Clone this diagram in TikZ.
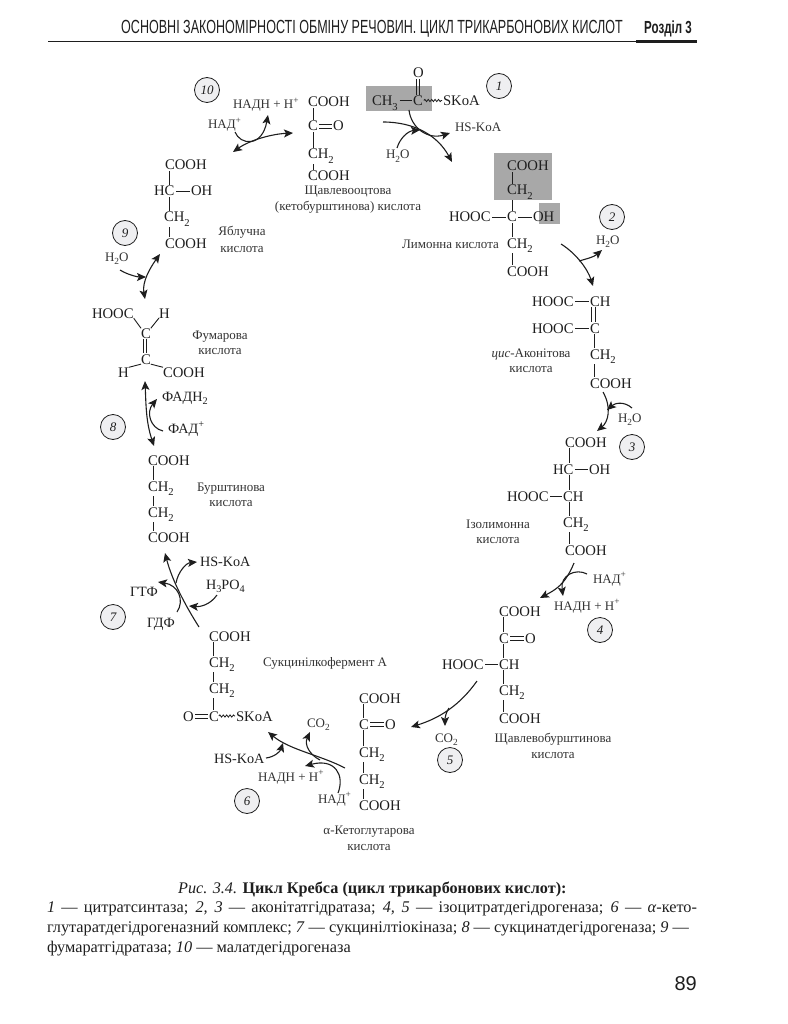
\documentclass[tikz,border=0pt]{standalone}
\usepackage{fontspec}
\setmainfont{Liberation Serif}
\newfontfamily\hdrfont[FakeStretch=0.66]{Liberation Sans}
\newfontfamily\numfont{Liberation Sans}
\usetikzlibrary{arrows.meta,decorations.pathmorphing,calc}
\definecolor{ink}{HTML}{1E1E1E}
\definecolor{lab}{HTML}{333333}
\definecolor{boxgrey}{HTML}{A8A8A8}
\definecolor{circ}{HTML}{EFEFF1}
\newcommand\subs[1]{\raisebox{-0.28em}{\scalebox{.72}{#1}}}
\newcommand\sups[1]{\raisebox{0.42em}{\scalebox{.72}{#1}}}
\tikzset{
 chem/.style={anchor=base west,inner sep=0pt,outer sep=0pt,text=ink,font=\fontsize{14.7pt}{15pt}\selectfont},
 chemb/.style={anchor=base west,inner sep=0pt,outer sep=0pt,text=ink,font=\fontsize{14.2pt}{15pt}\selectfont},
 sm/.style={anchor=base west,inner sep=0pt,outer sep=0pt,text=lab,font=\fontsize{13pt}{14pt}\selectfont},
 acidname/.style={anchor=base,inner sep=0pt,outer sep=0pt,text=lab,font=\fontsize{13pt}{14pt}\selectfont},
 enz/.style={circle,draw=ink,line width=.8pt,fill=circ,minimum size=25pt,inner sep=0pt,text=ink,font=\fontsize{13pt}{14pt}\selectfont\itshape},
 bond/.style={draw=ink,line width=.9pt},
 rx/.style={draw=ink,line width=1.1pt,-{Stealth[length=9pt,width=8pt,inset=2pt]}},
 rxx/.style={draw=ink,line width=1.1pt,{Stealth[length=9pt,width=8pt,inset=2pt]}-{Stealth[length=9pt,width=8pt,inset=2pt]}},
 wavy/.style={draw=ink,line width=.8pt,decorate,decoration={snake,amplitude=1.1pt,segment length=3.4pt}},
 captxt/.style={anchor=base west,inner sep=0pt,outer sep=0pt,text=ink,font=\fontsize{16.3pt}{18pt}\selectfont},
}
% vertical bond: node a (x offset) to node b (x offset)
\newcommand\vb[4]{\draw[bond] ([xshift=#2pt,yshift=-1pt]#1.south west) -- ([xshift=#4pt,yshift=1pt]#3.north west);}
% horizontal bond between neighbouring nodes
\newcommand\hb[2]{\draw[bond] ($(#1.base east)+(1.5pt,4.9pt)$) -- ($(#2.base west)+(-1.5pt,4.9pt)$);}
\newcommand\dhb[2]{\draw[bond] ($(#1.base east)+(1.5pt,6.8pt)$) -- ($(#2.base west)+(-1.5pt,6.8pt)$);
 \draw[bond] ($(#1.base east)+(1.5pt,3pt)$) -- ($(#2.base west)+(-1.5pt,3pt)$);}
\newcommand\dvb[4]{\draw[bond] ([xshift=#2pt-1.8pt,yshift=-1pt]#1.south west) -- ([xshift=#4pt-1.8pt,yshift=1pt]#3.north west);
 \draw[bond] ([xshift=#2pt+1.8pt,yshift=-1pt]#1.south west) -- ([xshift=#4pt+1.8pt,yshift=1pt]#3.north west);}
\begin{document}
\begin{tikzpicture}[x=1pt,y=-1pt]
\useasboundingbox (0,0) rectangle (787,1024);
% header
\node[anchor=base east,inner sep=0pt,text=ink,font=\fontsize{19pt}{20pt}\selectfont\hdrfont] (hd) at (623,34) {ОСНОВНІ ЗАКОНОМІРНОСТІ ОБМІНУ РЕЧОВИН. ЦИКЛ ТРИКАРБОНОВИХ КИСЛОТ};
\node[anchor=base west,inner sep=0pt,text=ink,font=\fontsize{17.5pt}{18pt}\selectfont\hdrfont\bfseries] (rz) at (644,34) {Розділ 3};
\coordinate (ra) at (48,41.5); \coordinate (rb) at (697,41.5); \coordinate (rc) at (636,41.5);
\draw[ink,line width=1.1pt] (ra) -- (rb);
\draw[ink,line width=3.6pt] (rc) -- (rb);
% grey boxes
\fill[boxgrey] (366,86) rectangle (432,111);
\fill[boxgrey] (494,153) rectangle (552,200);
\fill[boxgrey] (539,203) rectangle (560,224);
% acetyl-CoA
\node[chem] (ao) at (413,78) {O};
\node[chem] (ach) at (372,106) {CH\subs{3}};
\node[chem] (ac) at (413,106) {C};
\node[chem] (as) at (443,106) {SKoA};
\dvb{ao}{5}{ac}{5}
\draw[bond] ($(ach.base east)+(2,-5.5)$) -- ($(ac.base west)+(-1,-5.5)$);
\draw[wavy] ($(ac.base east)+(1,-5.5)$) -- ($(as.base west)+(-1,-5.5)$);
% oxaloacetate
\node[chem] (oa1) at (308,107) {COOH};
\node[chem] (oa2) at (308,131) {C};
\node[chem] (oa3) at (333,131) {O};
\node[chem] (oa4) at (308,159) {CH\subs{2}};
\node[chem] (oa5) at (308,181) {COOH};
\vb{oa1}{5}{oa2}{5}\dhb{oa2}{oa3}\vb{oa2}{5}{oa4}{5}\vb{oa4}{5}{oa5}{5}
\node[acidname] (n10a) at (348,195) {Щавлевооцтова};
\node[acidname] (n10b) at (348,211) {(кетобурштинова) кислота};
% citrate
\node[chem] (ci1) at (507,171) {COOH};
\node[chem] (ci2) at (507,195) {CH\subs{2}};
\node[chem] (ci3) at (449,222) {HOOC};
\node[chem] (ci4) at (507,222) {C};
\node[chem] (ci5) at (533,222) {OH};
\node[chem] (ci6) at (507,248) {CH\subs{2}};
\node[chem] (ci7) at (507,276) {COOH};
\vb{ci1}{5}{ci2}{5}\vb{ci2}{5}{ci4}{5}\vb{ci4}{5}{ci6}{5}\vb{ci6}{5}{ci7}{5}\hb{ci3}{ci4}\hb{ci4}{ci5}
\node[acidname,anchor=base west] (n1) at (402,248) {Лимонна кислота};
% cis-aconitate
\node[chem] (ca1) at (532,306) {HOOC};
\node[chem] (ca2) at (590,306) {CH};
\node[chem] (ca3) at (532,333) {HOOC};
\node[chem] (ca4) at (590,333) {C};
\node[chem] (ca5) at (590,359) {CH\subs{2}};
\node[chem] (ca6) at (590,388) {COOH};
\hb{ca1}{ca2}\hb{ca3}{ca4}\dvb{ca2}{3.5}{ca4}{3.5}\vb{ca4}{4}{ca5}{4}\vb{ca5}{4}{ca6}{4}
\node[acidname] (n2a) at (531,357) {\itshape цис\upshape-Аконітова};
\node[acidname] (n2b) at (531,372) {кислота};
% isocitrate
\node[chem] (ic1) at (565,447) {COOH};
\node[chem] (ic2) at (553,474) {HC};
\node[chem] (ic3) at (589,474) {OH};
\node[chem] (ic4) at (507,501) {HOOC};
\node[chem] (ic5) at (563,501) {CH};
\node[chem] (ic6) at (563,527) {CH\subs{2}};
\node[chem] (ic7) at (565,555) {COOH};
\vb{ic1}{4}{ic2}{16}\vb{ic2}{16}{ic5}{6}\vb{ic5}{6}{ic6}{6}\vb{ic6}{6}{ic7}{4}\hb{ic2}{ic3}\hb{ic4}{ic5}
\node[acidname] (n3a) at (498,528) {Ізолимонна};
\node[acidname] (n3b) at (498,543) {кислота};
% oxalosuccinate
\node[chem] (os1) at (499,616) {COOH};
\node[chem] (os2) at (499,643) {C};
\node[chem] (os3) at (525,643) {O};
\node[chem] (os4) at (442,669) {HOOC};
\node[chem] (os5) at (499,669) {CH};
\node[chem] (os6) at (499,695) {CH\subs{2}};
\node[chem] (os7) at (499,723) {COOH};
\vb{os1}{4}{os2}{4}\vb{os2}{4}{os5}{4}\vb{os5}{4}{os6}{4}\vb{os6}{4}{os7}{4}\dhb{os2}{os3}\hb{os4}{os5}
\node[acidname] (n4a) at (553,742) {Щавлевобурштинова};
\node[acidname] (n4b) at (553,758) {кислота};
% alpha-ketoglutarate
\node[chem] (kg1) at (359,703) {COOH};
\node[chem] (kg2) at (359,729) {C};
\node[chem] (kg3) at (385,729) {O};
\node[chem] (kg4) at (359,757) {CH\subs{2}};
\node[chem] (kg5) at (359,784) {CH\subs{2}};
\node[chem] (kg6) at (359,810) {COOH};
\vb{kg1}{4}{kg2}{4}\vb{kg2}{4}{kg4}{4}\vb{kg4}{4}{kg5}{4}\vb{kg5}{4}{kg6}{4}\dhb{kg2}{kg3}
\node[acidname] (n5a) at (369,834) {α-Кетоглутарова};
\node[acidname] (n5b) at (369,850) {кислота};
% succinyl-CoA
\node[chem] (sc1) at (209,641) {COOH};
\node[chem] (sc2) at (209,667) {CH\subs{2}};
\node[chem] (sc3) at (209,693) {CH\subs{2}};
\node[chem] (sc4) at (209,721) {C};
\node[chem] (sc5) at (183,721) {O};
\node[chem] (sc6) at (236,721) {SKoA};
\vb{sc1}{4}{sc2}{4}\vb{sc2}{4}{sc3}{4}\vb{sc3}{4}{sc4}{4}\dhb{sc5}{sc4}
\draw[wavy] ($(sc4.base east)+(0,-5)$) -- ($(sc6.base west)+(-1,-5)$);
\node[acidname,anchor=base west] (n6) at (263,666) {Сукцинілкофермент А};
% succinate
\node[chem] (su1) at (148,465) {COOH};
\node[chem] (su2) at (148,491) {CH\subs{2}};
\node[chem] (su3) at (148,517) {CH\subs{2}};
\node[chem] (su4) at (148,542) {COOH};
\vb{su1}{5}{su2}{5}\vb{su2}{5}{su3}{5}\vb{su3}{5}{su4}{5}
\node[acidname] (n7a) at (231,491) {Бурштинова};
\node[acidname] (n7b) at (231,506) {кислота};
% fumarate
\node[chem] (fu1) at (92,318) {HOOC};
\node[chem] (fu2) at (159,318) {H};
\node[chem] (fu3) at (141,338) {C};
\node[chem] (fu4) at (141,364) {C};
\node[chem] (fu5) at (118,377) {H};
\node[chem] (fu6) at (163,377) {COOH};
\dvb{fu3}{3.8}{fu4}{3.8}
\draw[bond] (fu1.south east) -- (fu3.north west);
\draw[bond] (fu2.south west) -- (fu3.north east);
\draw[bond] (fu5.north east) -- (fu4.south west);
\draw[bond] (fu6.north west) -- (fu4.south east);
\node[acidname] (n8a) at (220,339) {Фумарова};
\node[acidname] (n8b) at (220,354) {кислота};
% malate
\node[chem] (ma1) at (165,170) {COOH};
\node[chem] (ma2) at (154,196) {HC};
\node[chem] (ma3) at (191,196) {OH};
\node[chem] (ma4) at (164,222) {CH\subs{2}};
\node[chem] (ma5) at (165,248) {COOH};
\vb{ma1}{4}{ma2}{15}\vb{ma2}{15}{ma4}{5}\vb{ma4}{5}{ma5}{4}\hb{ma2}{ma3}
\node[acidname] (n9a) at (242,236) {Яблучна};
\node[acidname] (n9b) at (242,252) {кислота};
% enzyme circles
\node[enz] (e1) at (499,86) {1};
\node[enz] (e2) at (612,217) {2};
\node[enz] (e3) at (632,447) {3};
\node[enz] (e4) at (600,630) {4};
\node[enz] (e5) at (450,760) {5};
\node[enz] (e6) at (247,801) {6};
\node[enz] (e7) at (113,617) {7};
\node[enz] (e8) at (113,427) {8};
\node[enz] (e9) at (125,233) {9};
\node[enz] (e10) at (207,90) {10};
% cofactor labels
\node[sm] (nh10) at (233,109) {НАДН + Н\sups{+}};
\node[sm] (na10) at (208,129) {НАД\sups{+}};
\node[sm] (hs1) at (455,132) {HS-KoA};
\node[sm] (w1) at (386,159) {H\subs{2}O};
\node[sm] (w2) at (596,244) {H\subs{2}O};
\node[sm] (w3) at (618,422) {H\subs{2}O};
\node[sm] (na4) at (593,583) {НАД\sups{+}};
\node[sm] (nh4) at (554,610) {НАДН + Н\sups{+}};
\node[sm] (co5) at (435,742) {CO\subs{2}};
\node[sm] (co6) at (307,727) {CO\subs{2}};
\node[chemb] (hs6) at (214,763) {HS-KoA};
\node[sm] (nh6) at (258,781) {НАДН + Н\sups{+}};
\node[sm] (na6) at (318,803) {НАД\sups{+}};
\node[chemb] (hs7) at (200,566) {HS-KoA};
\node[chemb] (po7) at (206,589) {H\subs{3}PO\subs{4}};
\node[chemb] (gt7) at (130,596) {ГТФ};
\node[chemb] (gd7) at (147,627) {ГДФ};
\node[chemb] (fh8) at (162,401) {ФАДН\subs{2}};
\node[chemb] (fa8) at (168,433) {ФАД\sups{+}};
\node[sm] (w9) at (105,261) {H\subs{2}O};
% arrow end points
\coordinate (a10l) at (233,152); \coordinate (a10r) at (293,133);
\coordinate (b10s) at (235,132); \coordinate (b10e) at (268,115);
\coordinate (a1s) at (383,122); \coordinate (a1e) at (452,162); \coordinate (a1m) at (420,130);
\coordinate (b1s) at (409,110); \coordinate (b1e) at (450,133);
\coordinate (c1s) at (397,148);
\coordinate (a2s) at (561,244); \coordinate (a2e) at (593,286);
\coordinate (b2s) at (579,261); \coordinate (b2e) at (602,250);
\coordinate (a3s) at (603,392); \coordinate (a3e) at (597,431);
\coordinate (b3s) at (632,408); \coordinate (b3e) at (607,410);
\coordinate (a4s) at (574,563); \coordinate (a4e) at (540,598);
\coordinate (b4s) at (587,574); \coordinate (b4e) at (563,596);
\coordinate (a5s) at (477,681); \coordinate (a5e) at (411,727);
\coordinate (b5s) at (449,708); \coordinate (b5e) at (445,726);
\coordinate (a6s) at (345,768); \coordinate (a6e) at (268,732);
\coordinate (b6s) at (266,758); \coordinate (b6e) at (283,743);
\coordinate (c6s) at (320,760); \coordinate (c6e) at (310,732);
\coordinate (d6s) at (338,793); \coordinate (d6e) at (305,766);
\coordinate (a7s) at (199,627); \coordinate (a7e) at (165,553);
\coordinate (b7s) at (176,583); \coordinate (b7e) at (197,562);
\coordinate (c7s) at (177,612); \coordinate (c7e) at (158,582);
\coordinate (d7s) at (217,595); \coordinate (d7e) at (189,606);
\coordinate (a8s) at (145,381); \coordinate (a8e) at (154,446);
\coordinate (b8s) at (163,431); \coordinate (b8e) at (157,399);
\coordinate (a9s) at (160,254); \coordinate (a9e) at (145,299);
\coordinate (b9s) at (120,270); \coordinate (b9e) at (146,277);
% reaction arrows
\draw[rxx] (a10l) .. controls (250,140) and (272,134) .. (a10r);
\draw[rx] (b10s) .. controls (240,145) and (262,148) .. (b10e);
\draw[rx] (a1s) .. controls (415,122) and (438,136) .. (a1e);
\draw[rx] (b1s) .. controls (411,128) and (428,140) .. (b1e);
\draw[rx] (c1s) .. controls (400,138) and (408,131) .. (a1m);
\draw[rx] (a2s) .. controls (577,254) and (588,270) .. (a2e);
\draw[rx] (b2s) .. controls (586,259) and (594,257) .. (b2e);
\draw[rx] (a3s) .. controls (612,408) and (608,422) .. (a3e);
\draw[rx] (b3s) .. controls (624,401) and (615,403) .. (b3e);
\draw[rx] (a4s) .. controls (565,585) and (555,590) .. (a4e);
\draw[rx] (b4s) .. controls (576,568) and (560,575) .. (b4e);
\draw[rx] (a5s) .. controls (460,705) and (440,718) .. (a5e);
\draw[rx] (b5s) .. controls (446,712) and (445,718) .. (b5e);
\draw[rx] (a6s) .. controls (320,755) and (290,750) .. (a6e);
\draw[rx] (b6s) .. controls (274,757) and (280,752) .. (b6e);
\draw[rx] (c6s) .. controls (310,755) and (304,745) .. (c6e);
\draw[rx] (d6s) .. controls (345,775) and (335,758) .. (d6e);
\draw[rx] (a7s) .. controls (185,605) and (172,580) .. (a7e);
\draw[rx] (b7s) .. controls (178,572) and (186,563) .. (b7e);
\draw[rx] (c7s) .. controls (185,600) and (178,585) .. (c7e);
\draw[rx] (d7s) .. controls (210,605) and (200,607) .. (d7e);
\draw[rxx] (a8s) .. controls (146,405) and (146,422) .. (a8e);
\draw[rx] (b8s) .. controls (150,428) and (146,412) .. (b8e);
\draw[rxx] (a9s) .. controls (150,268) and (142,282) .. (a9e);
\draw[rx] (b9s) .. controls (128,275) and (138,277) .. (b9e);
% caption
\node[anchor=base west,inner sep=0pt,text=ink,font=\fontsize{16.2pt}{18pt}\selectfont] (c0) at (178,893) {\textit{Рис. 3.4.} \textbf{Цикл Кребса (цикл трикарбонових кислот):}};
\node[captxt] (c1) at (47,912) {\makebox[650pt][s]{\textit{1} — цитратсинтаза; \textit{2, 3} — аконітатгідратаза; \textit{4, 5} — ізоцитратдегідрогеназа; \textit{6} — \textit{α}-кето-}};
\node[captxt] (c2) at (47,932) {глутаратдегідрогеназний комплекс; \textit{7} — сукцинілтіокіназа; \textit{8} — сукцинатдегідрогеназа; \textit{9} —};
\node[captxt] (c3) at (47,952) {фумаратгідратаза; \textit{10} — малатдегідрогеназа};
\node[anchor=base east,inner sep=0pt,text=ink,font=\fontsize{20pt}{21pt}\selectfont\numfont] (pg) at (697,990) {89};
\end{tikzpicture}
\end{document}
